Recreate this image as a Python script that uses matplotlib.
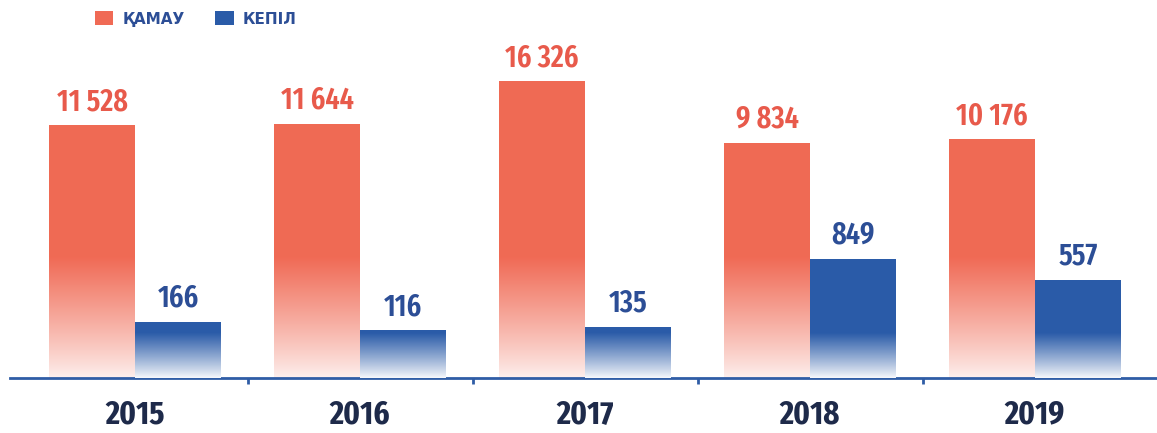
import numpy as np
import matplotlib
matplotlib.use("Agg")
import matplotlib.pyplot as plt
from matplotlib.patches import Patch

years = ["2015", "2016", "2017", "2018", "2019"]
kamau = [11528, 11644, 16326, 9834, 10176]
kepil = [166, 116, 135, 849, 557]
series_names = ["ҚАМАУ", "КЕПІЛ"]

RED = (0.941, 0.416, 0.333)
BLUE = (0.165, 0.357, 0.659)
RED_TXT = "#E85A4B"
BLUE_TXT = "#2C4E96"
YEAR_TXT = "#1E2A4A"
AXIS_C = "#2F5DA6"
NARROW = ["Fira Sans Extra Condensed", "DejaVu Sans"]

P = 0.46
fwd = lambda y: np.power(np.clip(y, 0, None), P)
inv = lambda y: np.power(np.clip(y, 0, None), 1.0 / P)

fig = plt.figure(figsize=(11.57, 4.33), dpi=100)
fig.patch.set_facecolor("white")

ax = fig.add_axes([0.0, 55 / 433, 1.0, 318 / 433])
ax2 = ax.twinx()
for a in (ax, ax2):
    a.set_yscale("function", functions=(fwd, inv))
    a.patch.set_visible(False)

x = np.arange(len(years))
w = 0.382


def gradient(rgb, span, floor):
    frac = np.linspace(0, 1, 400)
    t = np.clip(frac / span, 0, 1) ** 0.9
    a = floor + (1 - floor) * t
    img = np.ones((400, 1, 4))
    for k in range(3):
        img[:, 0, k] = 1 - a * (1 - rgb[k])
    return img


red_bars = ax.bar(x - w / 2, kamau, width=w, color="none", edgecolor="none")
blue_bars = ax2.bar(x + w / 2, kepil, width=w, color="none", edgecolor="none")

red_img = gradient(RED, 0.38, 0.10)
blue_img = gradient(BLUE, 0.14, 0.04)
for a, bars, img in ((ax, red_bars, red_img), (ax2, blue_bars, blue_img)):
    for b in bars:
        im = a.imshow(img, extent=(0, 1, 0, 1), transform=a.transAxes,
                      aspect="auto", origin="lower", interpolation="bilinear", zorder=2)
        im.set_clip_path(b)

ax.set_xlim(-0.6, (1157 - 135) / 225)
ax.set_ylim(0, 19000)
ax2.set_ylim(0, 7180)


def fmt(v):
    return f"{v:,}".replace(",", "\u2009")


for b, v in zip(red_bars, kamau):
    ax.annotate(fmt(v), (b.get_x() + b.get_width() / 2, v),
                xytext=(0, 11), textcoords="offset points", ha="center", va="baseline",
                fontsize=22, fontweight=600, color=RED_TXT, family=NARROW)
for b, v in zip(blue_bars, kepil):
    ax2.annotate(fmt(v), (b.get_x() + b.get_width() / 2, v),
                 xytext=(0, 11), textcoords="offset points", ha="center", va="baseline",
                 fontsize=22, fontweight=600, color=BLUE_TXT, family=NARROW)

for a in (ax, ax2):
    for s in ("top", "right", "left"):
        a.spines[s].set_visible(False)
    a.set_yticks([])
    a.tick_params(axis="y", which="both", left=False, right=False,
                  labelleft=False, labelright=False)
ax2.spines["bottom"].set_visible(False)

ax.spines["bottom"].set_color(AXIS_C)
ax.spines["bottom"].set_linewidth(2.0)
ax.spines["bottom"].set_bounds(-0.555, (1157 - 135) / 225)
ax.set_xticks(x[:-1] + 0.5)
ax.set_xticklabels([])
ax.tick_params(axis="x", which="major", direction="out", length=4, width=2, color=AXIS_C)
ax.set_xticks(x, minor=True)
ax.set_xticklabels(years, minor=True)
ax.tick_params(axis="x", which="minor", length=0, pad=15)
for lab in ax.get_xticklabels(minor=True):
    lab.set_fontsize(24)
    lab.set_fontweight("bold")
    lab.set_color(YEAR_TXT)
    lab.set_family(NARROW)

handles = [Patch(facecolor=RED, edgecolor="none"), Patch(facecolor=BLUE, edgecolor="none")]
leg = fig.legend(handles, series_names, loc="center left",
                 bbox_to_anchor=(95 / 1157, 1 - 19 / 433), ncol=2, frameon=False,
                 borderpad=0, borderaxespad=0, handlelength=1.2, handleheight=1.0,
                 handletextpad=0.6, columnspacing=2.0,
                 prop={"family": ["DejaVu Sans"], "weight": "bold", "size": 11})
for t in leg.get_texts():
    t.set_color(BLUE_TXT)

fig.savefig("out.png", dpi=100, facecolor="white")
